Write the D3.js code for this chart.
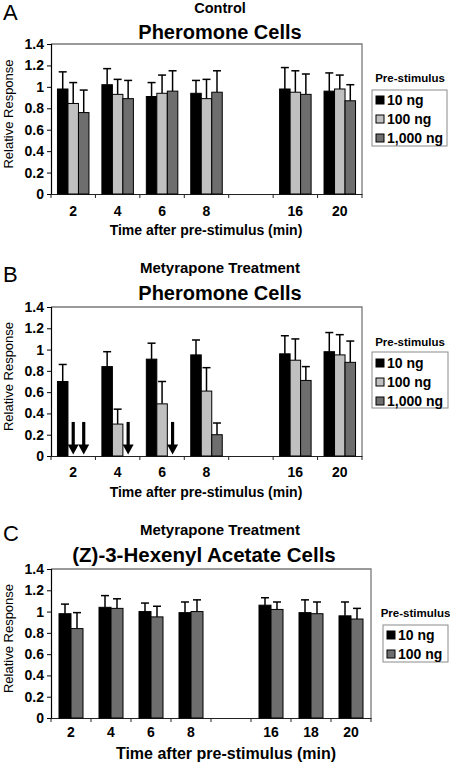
<!DOCTYPE html>
<html><head><meta charset="utf-8">
<script src="https://cdn.jsdelivr.net/npm/d3@7"></script>
<style>body{margin:0;background:#fff}svg{display:block}text{font-family:"Liberation Sans",Arial,sans-serif}</style>
</head><body>
<svg id="c" width="450" height="764"></svg>
<script>
// ---- data ----
const catsAB = ["2","4","6","8","","16","20"];
const catsC = ["2","4","6","8","","16","18","20"];
const seriesAB = ["10 ng","100 ng","1,000 ng"];
const seriesC = ["10 ng","100 ng"];
const yTicks = [0,0.2,0.4,0.6,0.8,1,1.2,1.4];
const yTickLabels = ["0","0.2","0.4","0.6","0.8","1","1.2","1.4"];

// Panel A (Control): per series, values per category (null = no bar)
const A_10   = [0.98,1.02,0.91,0.94,null,0.98,0.96];
const A_10e  = [1.14,1.17,1.04,1.06,null,1.18,1.13];
const A_100  = [0.845,0.93,0.94,0.89,null,0.95,0.98];
const A_100e = [1.04,1.07,1.11,1.07,null,1.15,1.11];
const A_1000 = [0.76,0.89,0.96,0.95,null,0.93,0.87];
const A_1000e= [0.97,1.06,1.15,1.15,null,1.12,1.02];

// Panel B (Metyrapone, pheromone cells)
const B_10   = [0.70,0.84,0.91,0.95,null,0.96,0.98];
const B_10e  = [0.86,0.98,1.06,1.09,null,1.13,1.16];
const B_100  = [null,0.30,0.49,0.61,null,0.90,0.95];
const B_100e = [null,0.44,0.70,0.83,null,1.10,1.14];
const B_1000 = [null,null,null,0.20,null,0.71,0.88];
const B_1000e= [null,null,null,0.31,null,0.84,1.08];
// arrows marking no response: [category, series index]
const B_arrows = [["2",1],["2",2],["4",2],["6",2]];

// Panel C (Metyrapone, (Z)-3-hexenyl acetate cells)
const C_10   = [0.98,1.04,1.00,0.99,null,1.06,0.99,0.96];
const C_10e  = [1.07,1.15,1.08,1.09,null,1.13,1.11,1.09];
const C_100  = [0.84,1.03,0.95,1.00,null,1.02,0.98,0.93];
const C_100e = [0.99,1.12,1.05,1.11,null,1.09,1.09,1.03];

// ---- drawing ----
const svg = d3.select("#c");
const FONT = '"Liberation Sans",Arial,sans-serif';

function panel(o){
  const g = svg.append("g");
  const x = d3.scaleBand().domain(o.cats).range([o.left,o.right]);
  const y = d3.scaleLinear().domain([0,1.4]).range([o.bottom,o.top]);
  const inner = d3.scaleBand().domain(d3.range(o.series.length))
      .range([0,o.barW*o.series.length]);
  const off = (x.bandwidth()-o.barW*o.series.length)/2;

  // frame
  g.append("path").attr("d",`M${o.left},${o.top}H${o.right}V${o.bottom}`)
    .attr("fill","none").attr("stroke","#7a7a7a").attr("stroke-width",1.3);

  // y axis
  const ya = d3.axisLeft(y).tickValues(yTicks).tickFormat((d,i)=>yTickLabels[i]).tickSize(4).tickPadding(3);
  const yg = g.append("g").attr("transform",`translate(${o.left},0)`).call(ya);
  yg.select(".domain").attr("stroke","#000").attr("stroke-width",1.2);
  yg.selectAll(".tick line").attr("stroke","#000");
  yg.selectAll("text").attr("font-size",14).attr("font-weight","bold").attr("font-family",FONT).attr("fill","#000");

  // x axis
  const xa = d3.axisBottom(x).tickSize(0).tickPadding(o.xPad);
  const xg = g.append("g").attr("transform",`translate(0,${o.bottom})`).call(xa);
  xg.select(".domain").attr("stroke","#222").attr("stroke-width",1.2);
  xg.selectAll("text").attr("font-size",14).attr("font-weight","bold").attr("font-family",FONT).attr("fill","#000");
  g.selectAll(".bt").data(o.cats.concat(["__end"])).join("line")
    .attr("x1",(d,i)=> i<o.cats.length? x(d): o.right)
    .attr("x2",(d,i)=> i<o.cats.length? x(d): o.right)
    .attr("y1",o.bottom).attr("y2",o.bottom+4).attr("stroke","#222");

  // bars
  o.data.forEach((s,si)=>{
    const recs = o.cats.map((c,ci)=>({c, v:s.v[ci], e:s.e[ci]})).filter(d=>d.v!=null);
    const bx = d => x(d.c)+off+inner(si);
    const cx = d => bx(d)+o.barW/2;
    g.selectAll(null).data(recs).join("line")
      .attr("x1",cx).attr("x2",cx).attr("y1",d=>y(d.v)).attr("y2",d=>y(d.e))
      .attr("stroke","#000").attr("stroke-width",1.5);
    g.selectAll(null).data(recs).join("line")
      .attr("x1",d=>cx(d)-4).attr("x2",d=>cx(d)+4).attr("y1",d=>y(d.e)).attr("y2",d=>y(d.e))
      .attr("stroke","#000").attr("stroke-width",1.5);
    g.selectAll(null).data(recs).join("rect")
      .attr("x",bx).attr("width",o.barW).attr("y",d=>y(d.v)).attr("height",d=>y(0)-y(d.v))
      .attr("fill",s.color).attr("stroke","#000").attr("stroke-width",1);
  });

  // arrows
  if(o.arrows){
    o.arrows.forEach(([c,si])=>{
      const cx = x(c)+off+inner(si)+o.barW/2;
      const y0 = y(0.32), y1 = y(0.015);
      g.append("line").attr("x1",cx).attr("x2",cx).attr("y1",y0).attr("y2",y1-8)
        .attr("stroke","#000").attr("stroke-width",3.2);
      g.append("path").attr("d",`M${cx-5.5},${y1-10}L${cx+5.5},${y1-10}L${cx},${y1}Z`).attr("fill","#000");
    });
  }

  // titles
  g.append("text").attr("x",3).attr("y",o.letterY).attr("font-size",22).text(o.letter);
  g.append("text").attr("x",220).attr("y",o.subY).attr("text-anchor","middle")
    .attr("font-size",o.subSize).attr("font-weight","bold").text(o.sub);
  g.append("text").attr("x",o.titleX).attr("y",o.titleY).attr("text-anchor","middle")
    .attr("font-size",o.titleSize).attr("font-weight","bold").text(o.title);
  g.append("text").attr("transform",`translate(13,${(o.top+o.bottom)/2-5}) rotate(-90)`)
    .attr("text-anchor","middle").attr("font-size",13).text("Relative Response");
  g.append("text").attr("x",o.xtX).attr("y",o.bottom+41).attr("text-anchor","middle")
    .attr("font-size",o.xtSize).attr("font-weight","bold").text("Time after pre-stimulus (min)");

  // legend
  const L = o.legend;
  g.append("text").attr("x",(L.x+448)/2).attr("y",L.titleY).attr("text-anchor","middle")
    .attr("font-size",11.5).attr("font-weight","bold").text("Pre-stimulus");
  g.append("rect").attr("x",L.x).attr("y",L.y).attr("width",L.w).attr("height",L.h)
    .attr("fill","#fff").attr("stroke","#8a8a8a").attr("stroke-width",1);
  o.data.forEach((s,si)=>{
    const cy = L.y + L.first + si*L.step;
    g.append("rect").attr("x",L.x+4).attr("y",cy-4).attr("width",8).attr("height",8)
      .attr("fill",s.color).attr("stroke","#000").attr("stroke-width",1);
    g.append("text").attr("x",L.x+15).attr("y",cy+5).attr("font-size",14).attr("font-weight","bold")
      .text(o.series[si]);
  });
}

const BLACK="#000", LIGHT="#c0c0c0", DARK="#6e6e6e";

panel({cats:catsAB, series:seriesAB, left:51, right:362, top:44, bottom:194, barW:10.5, xPad:12,
  data:[{v:A_10,e:A_10e,color:BLACK},{v:A_100,e:A_100e,color:LIGHT},{v:A_1000,e:A_1000e,color:DARK}],
  letter:"A", letterY:20, sub:"Control", subY:13, subSize:14.5, title:"Pheromone Cells", titleX:220, titleY:39, titleSize:20,
  xtX:206, xtSize:14,
  legend:{x:372,y:90,w:75,h:56,titleY:82,first:10,step:19}});

panel({cats:catsAB, series:seriesAB, left:51, right:362, top:307, bottom:456, barW:10.5, xPad:11,
  data:[{v:B_10,e:B_10e,color:BLACK},{v:B_100,e:B_100e,color:LIGHT},{v:B_1000,e:B_1000e,color:DARK}],
  arrows:B_arrows,
  letter:"B", letterY:282, sub:"Metyrapone Treatment", subY:273, subSize:15, title:"Pheromone Cells", titleX:220, titleY:300, titleSize:20,
  xtX:206, xtSize:14,
  legend:{x:372,y:352,w:76,h:56,titleY:346,first:11,step:19}});

panel({cats:catsC, series:seriesC, left:51, right:371, top:569, bottom:718, barW:12, xPad:9,
  data:[{v:C_10,e:C_10e,color:BLACK},{v:C_100,e:C_100e,color:DARK}],
  letter:"C", letterY:541, sub:"Metyrapone Treatment", subY:535, subSize:15, title:"(Z)-3-Hexenyl Acetate Cells", titleX:204, titleY:562, titleSize:20.5,
  xtX:226, xtSize:16,
  legend:{x:383,y:625,w:65,h:37,titleY:617,first:10,step:19}});
</script>
</body></html>
